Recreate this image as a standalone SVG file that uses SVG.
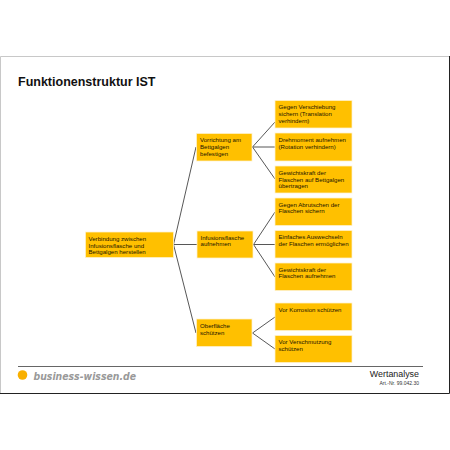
<svg xmlns="http://www.w3.org/2000/svg" width="450" height="450" viewBox="0 0 450 450">
<style>
.box{fill:#ffc000;stroke:#fff2cc;stroke-width:.75}
.t{font-family:"Liberation Sans",Arial,sans-serif;font-size:6.1px;fill:#1a1400}
.c{fill:none;stroke:#444;stroke-width:.9}
</style>
<rect width="450" height="450" fill="#fff"/>
<path d="M.5 393V56.5H449" fill="none" stroke="#c8c8c8" stroke-width="1"/>
<path d="M449.5 56V393.5H0" fill="none" stroke="#222" stroke-width="1"/>
<text x="18" y="86" font-family="'Liberation Sans',Arial,sans-serif" font-size="12.500" font-weight="bold" fill="#111">Funktionenstruktur IST</text>
<g id="connectors" class="c">
<path class="c" d="M173.500 244.500L196 147M173.500 244.500H197M173.500 244.500L196 333"/>
<path class="c" d="M252.500 147L275 122M252.500 147H275M252.500 147L275 179"/>
<path class="c" d="M253.500 244.500L275 212M253.500 244.500H275M253.500 244.500L275 277"/>
<path class="c" d="M252.500 333L275 317M252.500 333L275 349"/>
</g>
<g id="root"><rect class="box" x="85.500" y="232" width="88" height="25.500"/><text class="t" x="88.500" y="240.500">Verbindung zwischen</text><text class="t" x="88.500" y="247.500">Infusionsflasche und</text><text class="t" x="88.500" y="254">Bettgalgen herstellen</text></g>
<g id="n1"><rect class="box" x="196.500" y="133.500" width="55.500" height="27.500"/><text class="t" x="200" y="142">Vorrichtung am</text><text class="t" x="200" y="148.500">Bettgalgen</text><text class="t" x="200" y="155.500">befestigen</text></g>
<g id="n2"><rect class="box" x="197" y="231" width="56" height="27"/><text class="t" x="200.500" y="239.500">Infusionsflasche</text><text class="t" x="200.500" y="246">aufnehmen</text></g>
<g id="n3"><rect class="box" x="196.500" y="319" width="55.500" height="27.500"/><text class="t" x="200" y="327.500">Oberfläche</text><text class="t" x="200" y="334.500">schützen</text></g>
<g id="n11"><rect class="box" x="275" y="100.500" width="77" height="27.500"/><text class="t" x="278.500" y="109">Gegen Verschiebung</text><text class="t" x="278.500" y="116">sichern (Translation</text><text class="t" x="278.500" y="122.500">verhindern)</text></g>
<g id="n12"><rect class="box" x="275" y="133" width="77" height="28"/><text class="t" x="278.500" y="141.500">Drehmoment aufnehmen</text><text class="t" x="278.500" y="148.500">(Rotation verhindern)</text></g>
<g id="n13"><rect class="box" x="275" y="166" width="77" height="27"/><text class="t" x="278.500" y="174.500">Gewichtskraft der</text><text class="t" x="278.500" y="181.500">Flaschen auf Bettgalgen</text><text class="t" x="278.500" y="188">übertragen</text></g>
<g id="n21"><rect class="box" x="275" y="198" width="77" height="27.500"/><text class="t" x="278.500" y="206.500">Gegen Abrutschen der</text><text class="t" x="278.500" y="213">Flaschen sichern</text></g>
<g id="n22"><rect class="box" x="275" y="230.500" width="77" height="27.500"/><text class="t" x="278.500" y="239">Einfaches Auswechseln</text><text class="t" x="278.500" y="246">der Flaschen ermöglichen</text></g>
<g id="n23"><rect class="box" x="275" y="263" width="77" height="27.500"/><text class="t" x="278.500" y="271.500">Gewichtskraft der</text><text class="t" x="278.500" y="278">Flaschen aufnehmen</text></g>
<g id="n31"><rect class="box" x="275" y="303" width="77" height="27.500"/><text class="t" x="278.500" y="311.500">Vor Korrosion schützen</text></g>
<g id="n32"><rect class="box" x="275" y="335.500" width="77" height="27"/><text class="t" x="278.500" y="344">Vor Verschmutzung</text><text class="t" x="278.500" y="350.500">schützen</text></g>
<path d="M18 366.500H423" stroke="#666" stroke-width="1"/>
<circle cx="22.500" cy="375" r="4.800" fill="#f9b000"/>
<text x="33.500" y="380" font-family="'DejaVu Sans',sans-serif" font-size="10.500" font-weight="bold" font-style="italic" fill="#999" textLength="102.500" lengthAdjust="spacingAndGlyphs">business-wissen.de</text>
<text x="419" y="377" text-anchor="end" font-family="'Liberation Sans',Arial,sans-serif" font-size="8.900" fill="#222">Wertanalyse</text>
<text x="419" y="384.500" text-anchor="end" font-family="'Liberation Sans',Arial,sans-serif" font-size="5" fill="#333">Art.-Nr. 99.042.30</text>
</svg>
